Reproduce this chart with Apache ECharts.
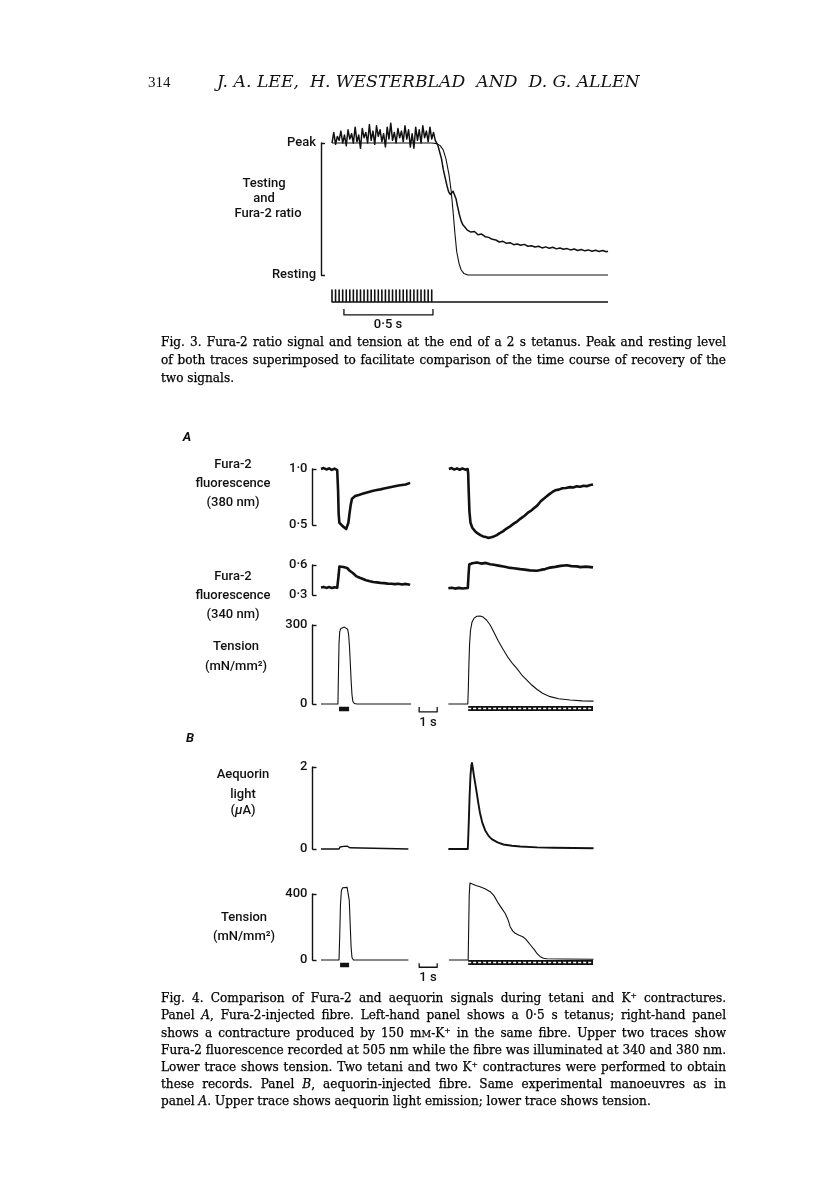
<!DOCTYPE html>
<html><head><meta charset="utf-8">
<script src="https://cdn.jsdelivr.net/npm/echarts@6/dist/echarts.min.js"></script>
<style>html,body{margin:0;padding:0;background:#fff}#c{width:816px;height:1181px}</style>
</head><body><div id="c"></div>
<script>
// ---------------- DATA ----------------
// Fig. 3 (time in s, value normalised: 0 = resting, 1 = peak)
const fig3TickLabels = ['Resting', 'Peak'];
const tension3 = [[0,1],[0.56,1],[0.59,0.995],[0.607,0.98],[0.624,0.95],[0.64,0.88],[0.657,0.76],[0.669,0.64],[0.68,0.48],[0.69,0.32],[0.70,0.18],[0.713,0.09],[0.725,0.04],[0.74,0.012],[0.764,0],[1.55,0]];
const ratio3 = [[0,1.00],[0.01,1.08],[0.02,0.99],[0.03,1.05],[0.04,1.02],[0.05,1.09],[0.06,1.00],[0.07,1.06],[0.08,0.98],[0.09,1.10],
 [0.10,1.03],[0.11,1.07],[0.12,1.00],[0.13,1.12],[0.14,1.01],[0.15,1.06],[0.16,0.96],[0.17,1.11],[0.18,1.04],[0.19,1.08],
 [0.20,1.00],[0.21,1.14],[0.22,1.02],[0.23,1.09],[0.24,0.99],[0.25,1.13],[0.26,1.05],[0.27,1.10],[0.28,1.01],[0.29,1.07],
 [0.30,0.97],[0.31,1.12],[0.32,1.03],[0.33,1.15],[0.34,1.02],[0.35,1.08],[0.36,1.00],[0.37,1.11],[0.38,1.04],[0.39,1.09],
 [0.40,1.01],[0.41,1.13],[0.42,1.03],[0.43,1.10],[0.44,0.97],[0.45,1.07],[0.46,0.96],[0.47,1.12],[0.48,1.02],[0.49,1.10],
 [0.50,1.00],[0.51,1.13],[0.52,1.04],[0.53,1.09],[0.54,1.01],[0.55,1.12],[0.56,1.03],[0.57,1.08],[0.58,1.02],
 [0.585,1.02],[0.595,0.98],[0.605,0.93],[0.615,0.88],[0.625,0.80],[0.635,0.74],[0.645,0.68],[0.655,0.63],[0.665,0.61],[0.672,0.62],
 [0.68,0.635],[0.688,0.62],[0.696,0.58],[0.705,0.52],[0.715,0.46],[0.725,0.41],[0.735,0.38],[0.748,0.36],[0.76,0.34],
 [0.78,0.325],[0.80,0.33],[0.82,0.305],[0.84,0.31],[0.86,0.29],[0.88,0.285],[0.90,0.27],[0.92,0.265],[0.94,0.25],[0.96,0.255],
 [0.98,0.24],[1.00,0.245],[1.02,0.23],[1.04,0.235],[1.06,0.225],[1.08,0.232],[1.10,0.218],[1.12,0.222],[1.14,0.212],[1.16,0.218],
 [1.18,0.205],[1.20,0.213],[1.22,0.203],[1.24,0.21],[1.26,0.198],[1.28,0.205],[1.30,0.195],[1.32,0.20],[1.34,0.19],[1.36,0.197],
 [1.38,0.186],[1.40,0.193],[1.42,0.183],[1.44,0.19],[1.46,0.18],[1.48,0.188],[1.50,0.178],[1.52,0.185],[1.54,0.176],[1.55,0.18]];
const stimTimes3 = [0,0.02,0.04,0.06,0.08,0.10,0.12,0.14,0.16,0.18,0.20,0.22,0.24,0.26,0.28,0.30,0.32,0.34,0.36,0.38,0.40,0.42,0.44,0.46,0.48,0.50,0.52,0.54,0.56];
const fig3End = 1.55;
const scaleBar3 = [0.067, 0.567]; // 0.5 s

// Fig. 4 (time in s)
const tick380 = ['0·5', '1·0'];
const tick340 = ['0·3', '0·6'];
const tickTenA = ['0', '300'];
const tickAeq = ['0', '2'];
const tickTenB = ['0', '400'];

const f380L = [[0,1.0],[0.15,1.008],[0.3,0.996],[0.45,1.006],[0.6,0.992],[0.75,1.004],[0.9,0.99],[0.95,0.8],[0.98,0.6],[1.02,0.52],
 [1.1,0.505],[1.2,0.49],[1.3,0.478],[1.4,0.465],[1.47,0.47],[1.52,0.52],[1.58,0.6],[1.65,0.68],[1.72,0.735],[1.8,0.752],
 [1.9,0.758],[2.0,0.772],[2.1,0.768],[2.2,0.782],[2.3,0.778],[2.4,0.792],[2.5,0.788],[2.6,0.8],[2.7,0.797],[2.8,0.81],
 [2.9,0.806],[3.0,0.816],[3.1,0.812],[3.2,0.823],[3.3,0.818],[3.4,0.832],[3.5,0.826],[3.6,0.838],[3.7,0.833],[3.8,0.846],
 [3.9,0.84],[4.0,0.851],[4.1,0.846],[4.2,0.857],[4.3,0.852],[4.4,0.862],[4.5,0.857],[4.6,0.867],[4.7,0.862],[4.8,0.872],[4.95,0.876]];
const f380R = [[7.1,1.0],[7.25,1.008],[7.4,0.995],[7.55,1.006],[7.7,0.993],[7.85,1.005],[8.0,0.994],[8.14,1.0],[8.17,0.96],[8.2,0.8],
 [8.24,0.62],[8.3,0.52],[8.4,0.475],[8.55,0.445],[8.7,0.425],[8.85,0.41],[9.0,0.398],[9.15,0.392],[9.3,0.385],[9.45,0.39],
 [9.6,0.398],[9.76,0.41],[9.9,0.425],[10.1,0.443],[10.3,0.468],[10.5,0.488],[10.7,0.512],[10.9,0.533],[11.06,0.555],[11.3,0.583],
 [11.5,0.612],[11.65,0.626],[11.8,0.648],[12.0,0.673],[12.2,0.712],[12.4,0.738],[12.54,0.758],[12.7,0.778],[12.85,0.795],[13.0,0.81],
 [13.2,0.816],[13.4,0.828],[13.6,0.83],[13.83,0.838],[14.0,0.835],[14.2,0.845],[14.4,0.842],[14.57,0.85],[14.75,0.847],[14.95,0.857],[15.1,0.862]];
const f340L = [[0,0.375],[0.15,0.381],[0.3,0.371],[0.45,0.379],[0.6,0.37],[0.75,0.377],[0.9,0.372],[0.95,0.378],[0.98,0.5],[1.02,0.585],
 [1.12,0.592],[1.24,0.58],[1.35,0.586],[1.45,0.57],[1.52,0.556],[1.58,0.545],[1.63,0.562],[1.68,0.546],[1.75,0.522],[1.85,0.502],
 [1.98,0.486],[2.15,0.472],[2.3,0.462],[2.5,0.447],[2.72,0.437],[2.9,0.43],[3.1,0.426],[3.3,0.421],[3.5,0.419],[3.7,0.414],
 [3.9,0.413],[4.1,0.409],[4.3,0.412],[4.5,0.405],[4.7,0.411],[4.95,0.402]];
const f340R = [[7.07,0.367],[7.25,0.373],[7.45,0.364],[7.65,0.371],[7.85,0.365],[8.15,0.37],[8.19,0.5],[8.23,0.605],[8.4,0.617],[8.65,0.626],
 [8.9,0.614],[9.15,0.621],[9.39,0.607],[9.6,0.602],[9.85,0.594],[10.13,0.585],[10.4,0.574],[10.7,0.568],[11.06,0.559],[11.3,0.554],
 [11.6,0.546],[11.98,0.543],[12.2,0.551],[12.45,0.559],[12.72,0.574],[13.0,0.581],[13.3,0.591],[13.65,0.597],[13.9,0.589],[14.2,0.586],
 [14.4,0.579],[14.7,0.584],[15.1,0.576]];
const tenAL = [[0,0],[0.94,0],[0.97,120],[1.0,230],[1.04,275],[1.1,287],[1.2,291],[1.3,292],[1.4,290],[1.48,284],[1.53,265],[1.58,220],[1.63,150],[1.68,80],[1.72,35],[1.77,10],[1.85,2],[2.0,0],[5.0,0]];
const tenAR = [[7.07,0],[8.15,0],[8.18,60],[8.21,150],[8.25,230],[8.3,280],[8.38,310],[8.5,326],[8.65,333],[8.83,334],[9.0,330],[9.2,318],[9.39,300],[9.6,272],[9.85,238],[10.13,205],[10.4,175],[10.65,152],[10.87,135],[11.15,110],[11.43,91],[11.7,72],[11.98,56],[12.3,41],[12.72,28],[13.2,20],[13.83,15],[14.5,12],[15.13,11]];
const aeqL = [[0,0],[1.0,0],[1.06,0.05],[1.15,0.07],[1.25,0.065],[1.35,0.075],[1.45,0.07],[1.55,0.075],[1.6,0.03],[1.7,0],[4.85,0]];
const aeqR = [[7.07,0],[8.15,0],[8.2,0.6],[8.25,1.3],[8.3,1.8],[8.35,2.05],[8.38,2.1],[8.42,2.0],[8.5,1.76],[8.58,1.55],[8.65,1.36],[8.74,1.1],[8.83,0.87],[8.95,0.65],[9.11,0.46],[9.3,0.32],[9.48,0.24],[9.8,0.16],[10.13,0.11],[10.6,0.08],[11.06,0.06],[12.0,0.04],[12.9,0.03],[14.0,0.025],[15.13,0.02]];
const tenBL = [[0,0],[1.0,0],[1.04,150],[1.08,330],[1.13,420],[1.2,438],[1.3,442],[1.45,440],[1.52,430],[1.57,360],[1.62,220],[1.67,80],[1.72,15],[1.8,0],[4.85,0]];
const tenBR = [[7.1,0],[8.17,0],[8.2,200],[8.23,400],[8.27,466],[8.37,460],[8.6,452],[8.83,444],[9.1,432],[9.39,414],[9.6,390],[9.85,343],[10.05,310],[10.22,283],[10.38,245],[10.5,202],[10.65,175],[10.78,162],[11.0,150],[11.2,141],[11.35,128],[11.48,111],[11.65,88],[11.85,61],[12.0,38],[12.17,20],[12.35,11],[12.54,8],[13.5,6],[15.13,5]];
const tetanusA = [1.0, 1.56];
const tetanusB = [1.06, 1.56];
const kExposure = [8.17, 15.1];
const scaleBar4 = [5.45, 6.45]; // 1 s
const fig4End = 15.1;

// ---------------- CHART ----------------
const chart = echarts.init(document.getElementById('c'), null, {renderer: 'canvas'});
const INK = '#111';
const SANS = 'Roboto, "Liberation Sans", Arial, sans-serif';
const LW = 500;

function grid(left, top, width, height) {
  return {left, top, width, height, containLabel: false, outerBoundsMode: 'none', show: false};
}
function bracketAxis(gi, min, max, labels, offset, fontSize) {
  return {
    gridIndex: gi, type: 'value', min, max, interval: max - min, offset,
    axisLine: {show: true, onZero: false, lineStyle: {color: INK, width: 1.4}},
    axisTick: {show: true, inside: true, length: 4, lineStyle: {color: INK, width: 1.4}},
    axisLabel: {show: true, margin: 5, color: INK, fontFamily: SANS, fontWeight: LW, fontSize: fontSize || 13,
      showMinLabel: true, showMaxLabel: true,
      formatter: (v, i) => labels[i]},
    splitLine: {show: false}
  };
}
function ln(gi, data, width, extra) {
  return Object.assign({
    type: 'line', xAxisIndex: gi, yAxisIndex: gi, data, showSymbol: false, symbol: 'none',
    clip: false, silent: true, animation: false, smooth: false,
    lineStyle: {color: INK, width: width, cap: 'butt', join: 'round'}
  }, extra || {});
}

// stimulus and annotation marks built from the data arrays
const stimLine = [];
stimTimes3.forEach(s => { stimLine.push([s, 0], [s, 1], [s, 0]); });
stimLine.push([fig3End, 0]);
const scale3 = [[scaleBar3[0], -0.58], [scaleBar3[0], -1.08], [scaleBar3[1], -1.08], [scaleBar3[1], -0.58]];
const barA = [[tetanusA[0], -19], [tetanusA[1], -19]];
const hatchA = [[kExposure[0], -17], [kExposure[1], -17]];
const scaleA = [[scaleBar4[0], -11], [scaleBar4[0], -30], [scaleBar4[1], -30], [scaleBar4[1], -11]];
const barB = [[tetanusB[0], -30], [tetanusB[1], -30]];
const hatchB = [[kExposure[0], -15], [kExposure[1], -15]];
const scaleB = [[scaleBar4[0], -20], [scaleBar4[0], -44], [scaleBar4[1], -44], [scaleBar4[1], -20]];

const grids = [
  grid(332, 143, 276, 132),
  grid(332, 290, 276, 12),
  grid(321, 469, 272, 56),
  grid(321, 565, 272, 30),
  grid(321, 625, 272, 79),
  grid(321, 767, 272, 82),
  grid(321, 894, 272, 66)
];
const xAxes = grids.map((g, i) => ({gridIndex: i, type: 'value', min: 0, max: i < 2 ? fig3End : fig4End, show: false}));
const yAxes = [
  bracketAxis(0, 0, 1, fig3TickLabels, 11, 13),
  {gridIndex: 1, type: 'value', min: 0, max: 1, show: false},
  bracketAxis(2, 0.5, 1, tick380, 8.5, 13),
  bracketAxis(3, 0.3, 0.6, tick340, 8.5, 13),
  bracketAxis(4, 0, 300, tickTenA, 8.5, 13),
  bracketAxis(5, 0, 2, tickAeq, 8.5, 13),
  bracketAxis(6, 0, 400, tickTenB, 8.5, 13)
];
const hatchStyle = (gi, d) => [
  ln(gi, d, 5, {lineStyle: {color: INK, width: 5, cap: 'butt'}}),
  ln(gi, d, 1.3, {lineStyle: {color: '#fff', width: 1.3, type: [3, 2], cap: 'butt'}})
];
const series = [
  ln(0, tension3, 1.1),
  ln(0, ratio3, 1.5),
  ln(1, stimLine, 1.6),
  ln(1, scale3, 1.3),
  ln(2, f380L, 2.6), ln(2, f380R, 2.6),
  ln(3, f340L, 2.6), ln(3, f340R, 2.6),
  ln(4, tenAL, 1.1), ln(4, tenAR, 1.1),
  ln(4, barA, 4.5), ...hatchStyle(4, hatchA), ln(4, scaleA, 1.3),
  ln(5, aeqL, 1.4), ln(5, aeqR, 1.9),
  ln(6, tenBL, 1.1), ln(6, tenBR, 1.1),
  ln(6, barB, 4.5), ...hatchStyle(6, hatchB), ln(6, scaleB, 1.3)
];

// ---------------- TEXT ----------------
const mctx = document.createElement('canvas').getContext('2d');
function measure(font, t) { mctx.font = font; return mctx.measureText(t).width; }
const SERIF = '"DejaVu Serif", serif';
const g = [];
function txt(t, x, y, font, align, extra) {
  g.push(Object.assign({type: 'text', silent: true, style: {text: t, x, y, font, fill: INK,
    align: align || 'center', textAlign: align || 'center', verticalAlign: 'middle', textVerticalAlign: 'middle'}}, extra || {}));
}
// header
const titleText = 'J. A. LEE,  H. WESTERBLAD  AND  D. G. ALLEN';
const tSize = 15 * 423 / measure(`italic 15px ${SERIF}`, titleText);
txt(titleText, 217, 83, `italic ${tSize.toFixed(2)}px ${SERIF}`, 'left');
txt('314', 148, 83, `15px "Liberation Serif", serif`, 'left');

// figure labels
const LBL = `${LW} 13px ${SANS}`;
txt('Testing', 264, 184, LBL); txt('and', 264, 199, LBL); txt('Fura-2 ratio', 268, 214, LBL);
txt('0·5 s', 388, 325, LBL);
txt('A', 187, 438, `italic bold 13px ${SANS}`);
txt('Fura-2', 233, 465, LBL); txt('fluorescence', 233, 484, LBL); txt('(380 nm)', 233, 503, LBL);
txt('Fura-2', 233, 577, LBL); txt('fluorescence', 233, 596, LBL); txt('(340 nm)', 233, 615, LBL);
txt('Tension', 236, 647, LBL); txt('(mN/mm²)', 236, 667, LBL);
txt('1 s', 428, 723, LBL);
txt('B', 190, 739, `italic bold 13px ${SANS}`);
txt('Aequorin', 243, 775, LBL); txt('light', 243, 795, LBL);
g.push({type: 'text', silent: true, style: {text: '{p|(}{i|μ}{p|A)}', x: 243, y: 811, align: 'center', textAlign: 'center', verticalAlign: 'middle', textVerticalAlign: 'middle',
  rich: {p: {font: LBL, fill: INK}, i: {font: `italic ${LW} 13px ${SANS}`, fill: INK}}}});
txt('Tension', 244, 918, LBL); txt('(mN/mm²)', 244, 937, LBL);
txt('1 s', 428, 978, LBL);

// captions (justified)
const cap3 = [
 'Fig. 3. Fura-2 ratio signal and tension at the end of a 2 s tetanus. Peak and resting level',
 'of both traces superimposed to facilitate comparison of the time course of recovery of the',
 'two signals.'];
const cap4 = [
 'Fig. 4. Comparison of Fura-2 and aequorin signals during tetani and K⁺ contractures.',
 'Panel _A_, Fura-2-injected fibre. Left-hand panel shows a 0·5 s tetanus; right-hand panel',
 'shows a contracture produced by 150 m^M^-K⁺ in the same fibre. Upper two traces show',
 'Fura-2 fluorescence recorded at 505 nm while the fibre was illuminated at 340 and 380 nm.',
 'Lower trace shows tension. Two tetani and two K⁺ contractures were performed to obtain',
 'these records. Panel _B_, aequorin-injected fibre. Same experimental manoeuvres as in',
 'panel _A_. Upper trace shows aequorin light emission; lower trace shows tension.'];
const CL = 161, CW = 565;
function pieces(word) {
  const out = []; const re = /_([^_]+)_|\^([^^]+)\^|([^_^]+)/g; let m;
  while ((m = re.exec(word))) { if (m[1]) out.push({t: m[1], k: 'i'}); else if (m[2]) out.push({t: m[2], k: 's'}); else out.push({t: m[3], k: 'n'}); }
  return out;
}
function pf(k, s) { return k === 'i' ? `italic ${s.toFixed(2)}px ${SERIF}` : k === 's' ? `${(s * 0.78).toFixed(2)}px ${SERIF}` : `${s.toFixed(2)}px ${SERIF}`; }
function natural(line, s) {
  const words = line.split(' ');
  let w = 0; words.forEach(wd => pieces(wd).forEach(p => { w += measure(pf(p.k, s), p.t); }));
  return w + (words.length - 1) * measure(pf('n', s), ' ');
}
const justified = [cap3[0], cap3[1], ...cap4.slice(0, 6)];
let capSize = Math.min(...justified.map(l => 10 * CW / natural(l, 10)));
function layoutLine(line, y, justify) {
  const words = line.split(' ');
  const ws = words.map(wd => pieces(wd).reduce((a, p) => a + measure(pf(p.k, capSize), p.t), 0));
  const total = ws.reduce((a, b) => a + b, 0);
  const gap = justify ? (CW - total) / (words.length - 1) : measure(pf('n', capSize), ' ');
  let x = CL;
  words.forEach((wd, i) => {
    let px = x;
    pieces(wd).forEach(p => {
      const f = pf(p.k, capSize);
      const yy = y + (p.k === 's' ? capSize * 0.1 : 0);
      g.push({type: 'text', silent: true, style: {text: p.t, x: px, y: yy, font: f, fill: '#000', stroke: '#000', lineWidth: 0.25,
        align: 'left', textAlign: 'left', verticalAlign: 'middle', textVerticalAlign: 'middle'}});
      px += measure(f, p.t);
    });
    x += ws[i] + gap;
  });
}
const cap3Y = [343, 361, 379];
cap3.forEach((l, i) => layoutLine(l, cap3Y[i], i < 2));
const cap4Y0 = 999, cap4Step = 17.2;
cap4.forEach((l, i) => layoutLine(l, cap4Y0 + i * cap4Step, i < 6));

chart.setOption({
  animation: false,
  backgroundColor: '#fff',
  grid: grids, xAxis: xAxes, yAxis: yAxes, series,
  graphic: {elements: g}
});
</script></body></html>
